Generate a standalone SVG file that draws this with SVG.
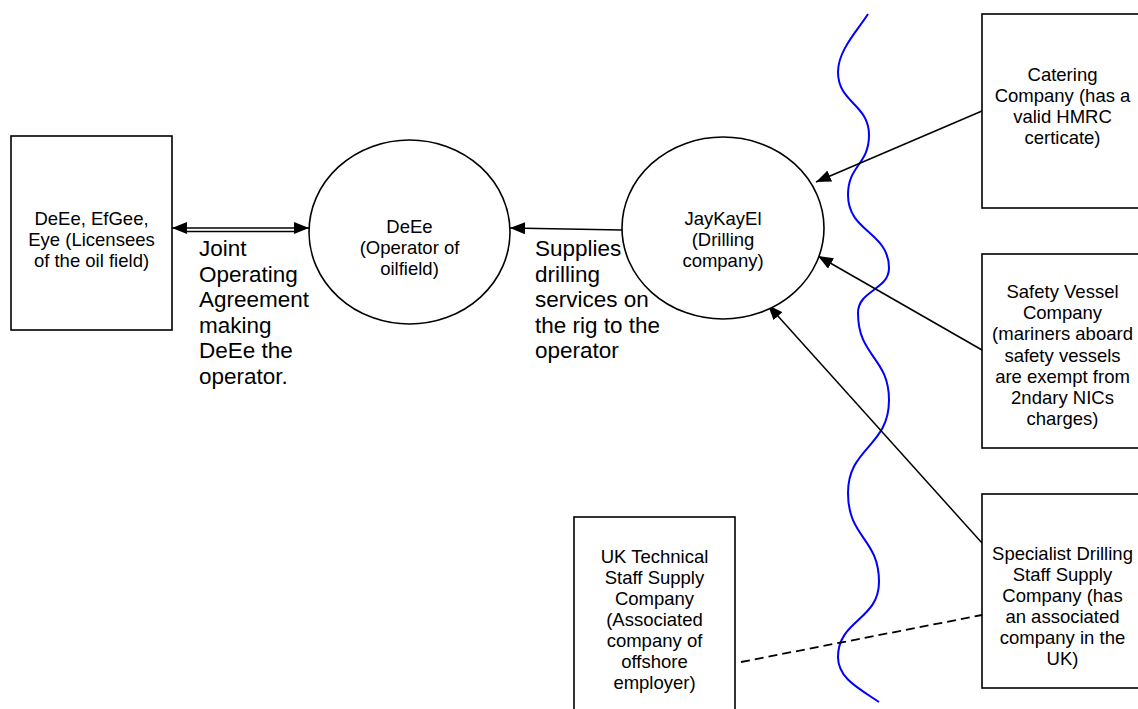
<svg xmlns="http://www.w3.org/2000/svg" width="1138" height="709" viewBox="0 0 1138 709">
  <style>
    .box { fill: #ffffff; stroke: #000000; stroke-width: 1.6; }
    .oval { fill: #ffffff; stroke: #000000; stroke-width: 1.6; }
    .node-text { font-family: "Liberation Sans", Arial, sans-serif; font-size: 18.5px; fill: #000000; text-anchor: middle; }
    .label { font-family: "Liberation Sans", Arial, sans-serif; font-size: 22.5px; fill: #000000; }
    .link { fill: none; stroke: #000000; stroke-width: 1.5; }
    .dashed { fill: none; stroke: #000000; stroke-width: 1.8; stroke-dasharray: 9 5; }
    .wave { fill: none; stroke: #0000ff; stroke-width: 2; }
  </style>
  <defs>
    <marker id="arrow" viewBox="0 0 15 12" refX="15" refY="6" markerWidth="15" markerHeight="12" markerUnits="userSpaceOnUse" orient="auto-start-reverse">
      <path d="M0,0 L15,6 L0,12 z" fill="#000000"/>
    </marker>
  </defs>

  <rect width="1138" height="709" fill="#ffffff"/>

  <!-- boundary line -->
  <path class="wave" d="M868,14 C858,30 838,50 838,72 C838,103 869,104 869,135 C869,165 848,165 848,195 C848,232 889,232 889,268 C889,290 858,290 858,313 C858,357 889,357 889,400 C889,447 848,447 848,493 C848,538 879,538 879,582 C879,620 838,620 838,657 C838,678 858,688 879,702"/>

  <!-- connectors -->
  <g id="connectors">
    <path class="link" d="M172,228 L309,228" marker-start="url(#arrow)" marker-end="url(#arrow)"/>
    <path class="link" d="M184,231.5 L297,231.5" stroke-width="1"/>
    <path class="link" d="M622,230 L510,228" marker-end="url(#arrow)"/>
    <path class="link" d="M982,111 L816,182" marker-end="url(#arrow)"/>
    <path class="link" d="M982,350 L818,256" marker-end="url(#arrow)"/>
    <path class="link" d="M982,543 L768,305" marker-end="url(#arrow)"/>
    <path class="dashed" d="M741,662 L982,615"/>
  </g>

  <!-- connector labels -->
  <g id="label-joint">
    <text class="label" x="199" y="256">Joint</text>
    <text class="label" x="199" y="281.6">Operating</text>
    <text class="label" x="199" y="307.2">Agreement</text>
    <text class="label" x="199" y="332.8">making</text>
    <text class="label" x="199" y="358.4">DeEe the</text>
    <text class="label" x="199" y="384">operator.</text>
  </g>
  <g id="label-supplies">
    <text class="label" x="535" y="256">Supplies</text>
    <text class="label" x="535" y="281.6">drilling</text>
    <text class="label" x="535" y="307.2">services on</text>
    <text class="label" x="535" y="332.8">the rig to the</text>
    <text class="label" x="535" y="358.4">operator</text>
  </g>

  <!-- nodes -->
  <g id="licensees">
    <rect class="box" x="11" y="136" width="161" height="194"/>
    <text class="node-text" x="91.5" y="225">DeEe, EfGee,</text>
    <text class="node-text" x="91.5" y="246">Eye (Licensees</text>
    <text class="node-text" x="91.5" y="267">of the oil field)</text>
  </g>

  <g id="operator">
    <ellipse class="oval" cx="409.5" cy="232" rx="100.5" ry="92"/>
    <text class="node-text" x="409.5" y="232.7">DeEe</text>
    <text class="node-text" x="409.5" y="253.5">(Operator of</text>
    <text class="node-text" x="409.5" y="275">oilfield)</text>
  </g>

  <g id="drilling-company">
    <ellipse class="oval" cx="723" cy="228" rx="101" ry="91"/>
    <text class="node-text" x="723" y="225">JayKayEl</text>
    <text class="node-text" x="723" y="246">(Drilling</text>
    <text class="node-text" x="723" y="267">company)</text>
  </g>

  <g id="catering">
    <rect class="box" x="982" y="14" width="170" height="194"/>
    <text class="node-text" x="1062.5" y="81">Catering</text>
    <text class="node-text" x="1062.5" y="102">Company (has a</text>
    <text class="node-text" x="1062.5" y="123">valid HMRC</text>
    <text class="node-text" x="1062.5" y="144">certicate)</text>
  </g>

  <g id="safety-vessel">
    <rect class="box" x="982" y="254" width="170" height="194"/>
    <text class="node-text" x="1062.5" y="298">Safety Vessel</text>
    <text class="node-text" x="1062.5" y="319.2">Company</text>
    <text class="node-text" x="1062.5" y="340.4">(mariners aboard</text>
    <text class="node-text" x="1062.5" y="361.6">safety vessels</text>
    <text class="node-text" x="1062.5" y="382.8">are exempt from</text>
    <text class="node-text" x="1062.5" y="404">2ndary NICs</text>
    <text class="node-text" x="1062.5" y="425.2">charges)</text>
  </g>

  <g id="specialist-staff">
    <rect class="box" x="982" y="494" width="170" height="194"/>
    <text class="node-text" x="1062.5" y="560">Specialist Drilling</text>
    <text class="node-text" x="1062.5" y="581">Staff Supply</text>
    <text class="node-text" x="1062.5" y="602">Company (has</text>
    <text class="node-text" x="1062.5" y="623">an associated</text>
    <text class="node-text" x="1062.5" y="644">company in the</text>
    <text class="node-text" x="1062.5" y="665">UK)</text>
  </g>

  <g id="uk-technical-staff">
    <rect class="box" x="574" y="517" width="161" height="200"/>
    <text class="node-text" x="654.5" y="563">UK Technical</text>
    <text class="node-text" x="654.5" y="584">Staff Supply</text>
    <text class="node-text" x="654.5" y="605">Company</text>
    <text class="node-text" x="654.5" y="626">(Associated</text>
    <text class="node-text" x="654.5" y="647">company of</text>
    <text class="node-text" x="654.5" y="668">offshore</text>
    <text class="node-text" x="654.5" y="689">employer)</text>
  </g>
</svg>
